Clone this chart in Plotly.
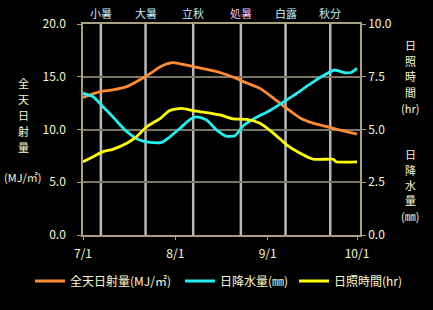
import plotly.graph_objects as go
import pandas as pd

# ---- data ----
rad_days = [0, 5.7, 10, 14.7, 19, 22.5, 26, 30, 32, 37, 41.5, 46, 50.5, 55, 59.4, 64, 68.4, 72.9, 77.3, 81.8, 86.3, 92]
rad_vals = [13.05, 13.6, 13.75, 14.06, 14.7, 15.3, 15.95, 16.33, 16.27, 15.95, 15.7, 15.4, 14.95, 14.4, 13.9, 12.96, 12.0, 11.1, 10.6, 10.27, 9.95, 9.57]

rain_days = [0, 3.4, 6.7, 10, 14.7, 19, 22.5, 26.4, 29, 32.5, 36, 38, 41.5, 44.8, 48, 51, 54, 58.6, 62, 66.6, 71, 75.7, 80, 84.5, 87.8, 90, 92]
rain_vals = [6.72, 6.55, 6.08, 5.6, 4.9, 4.5, 4.39, 4.39, 4.63, 5.05, 5.48, 5.6, 5.45, 4.98, 4.69, 4.7, 5.2, 5.6, 5.84, 6.24, 6.64, 7.1, 7.5, 7.82, 7.69, 7.7, 7.9]

sun_days = [0, 3.4, 6.7, 10, 14.7, 18, 21.4, 26, 29, 33, 37, 41.5, 46, 50.5, 55, 59.4, 64, 68.4, 72.9, 77.3, 84, 85, 92]
sun_vals = [3.47, 3.71, 3.95, 4.06, 4.35, 4.66, 5.13, 5.53, 5.89, 6.0, 5.89, 5.8, 5.69, 5.5, 5.48, 5.3, 4.82, 4.27, 3.87, 3.59, 3.59, 3.47, 3.47]

term_names = ["小暑", "大暑", "立秋", "処暑", "白露", "秋分"]
term_dates = ["2023-07-07", "2023-07-22", "2023-08-07", "2023-08-23", "2023-09-07", "2023-09-22"]
term_colors = ["#c0f0ff", "#c0f0ff", "#c0f0ff", "#f0c0ff", "#c0f0ff", "#c0f0ff"]

tick_dates = ["2023-07-01", "2023-08-01", "2023-09-01", "2023-10-01"]
tick_labels = ["7/1", "8/1", "9/1", "10/1"]

series_names = ["全天日射量(MJ/㎡)", "日降水量(㎜)", "日照時間(hr)"]
series_colors = ["#ff8c30", "#20f0f0", "#ffff00"]

left_title = ["全", "天", "日", "射", "量", "(MJ/㎡)"]
right_title1 = ["日", "照", "時", "間", "(hr)"]
right_title2 = ["日", "降", "水", "量", "(㎜)"]

base = pd.Timestamp("2023-07-01")
def to_dates(days):
    return [base + pd.Timedelta(hours=d * 24) for d in days]

FONT = "Noto Sans CJK JP"
TXT = "#f8f8d0"
AX = "#a8a080"
GRID = "#787860"

W, H = 433, 310
L, R, T, B = 83, 360, 24, 235

fig = go.Figure()
fig.add_trace(go.Scatter(x=to_dates(rad_days), y=rad_vals, mode="lines", name=series_names[0], legend="legend",
                         line=dict(color=series_colors[0], width=2.8, shape="spline", smoothing=0.6)))
fig.add_trace(go.Scatter(x=to_dates(rain_days), y=rain_vals, mode="lines", name=series_names[1], yaxis="y2",
                         legend="legend2",
                         line=dict(color=series_colors[1], width=2.8, shape="spline", smoothing=0.6)))
fig.add_trace(go.Scatter(x=to_dates(sun_days), y=sun_vals, mode="lines", name=series_names[2], yaxis="y2",
                         legend="legend3",
                         line=dict(color=series_colors[2], width=2.8, shape="spline", smoothing=0.6)))

shapes = []
for d in term_dates:
    shapes.append(dict(type="line", xref="x", yref="paper", x0=d, x1=d, y0=0, y1=1,
                       line=dict(color="#b8b8b8", width=2.5), layer="below"))

annotations = []
for n, d, c in zip(term_names, term_dates, term_colors):
    annotations.append(dict(text=n, x=d, xref="x", y=1.0, yref="paper", yanchor="bottom", yshift=1,
                            showarrow=False, font=dict(color=c, size=11, family=FONT)))

def px2paper(px, py):
    return (px - L) / (R - L), (B - py) / (B - T)

def add_col(chars, xpx, ys):
    for ch, ypx in zip(chars, ys):
        x, y = px2paper(xpx, ypx)
        annotations.append(dict(text=ch, x=x, xref="paper", y=y, yref="paper", showarrow=False,
                                xanchor="center", yanchor="middle",
                                font=dict(color=TXT, size=11, family=FONT)))

add_col(left_title, 23, [83, 99, 115, 131, 147, 177])
add_col(right_title1, 410, [45, 61, 76, 92, 108])
add_col(right_title2, 410, [154, 170, 185, 200, 216])

def leg(xpx):
    return dict(orientation="h", xref="container", yref="container", x=xpx / W, xanchor="left",
                y=1 - 281 / H, yanchor="middle", font=dict(color=TXT, size=12, family=FONT),
                bgcolor="rgba(0,0,0,0)")

fig.update_layout(
    width=W, height=H,
    paper_bgcolor="black", plot_bgcolor="black",
    margin=dict(l=L, r=W - R, t=T, b=H - B, autoexpand=False),
    font=dict(family=FONT, color=TXT, size=12),
    showlegend=True,
    legend=leg(30), legend2=leg(180), legend3=leg(294),
    xaxis=dict(type="date", range=["2023-07-01", "2023-10-02"], tickvals=tick_dates, ticktext=tick_labels,
               showgrid=False, showline=True, linecolor=AX, linewidth=1.5, ticks="outside", ticklen=3,
               tickcolor=AX, tickfont=dict(color=TXT, size=12), mirror=True, zeroline=False,
               ticklabelstandoff=4),
    yaxis=dict(range=[0, 20], tickvals=[0, 5, 10, 15, 20], ticktext=["0.0", "5.0", "10.0", "15.0", "20.0"],
               showgrid=True, gridcolor=GRID, gridwidth=1.5, showline=True, linecolor=AX, linewidth=1.5,
               ticks="outside", ticklen=4, tickcolor=AX, tickfont=dict(color=TXT, size=12), zeroline=False,
               ticklabelstandoff=9),
    yaxis2=dict(range=[0, 10], overlaying="y", side="right", tickvals=[0, 2.5, 5, 7.5, 10],
                ticktext=["0.0", "2.5", "5.0", "7.5", "10.0"], showgrid=False, showline=True, linecolor=AX,
                linewidth=1.5, ticks="outside", ticklen=4, tickcolor=AX, tickfont=dict(color=TXT, size=12),
                zeroline=False),
    shapes=shapes,
    annotations=annotations,
)

fig.write_html("out.html")
